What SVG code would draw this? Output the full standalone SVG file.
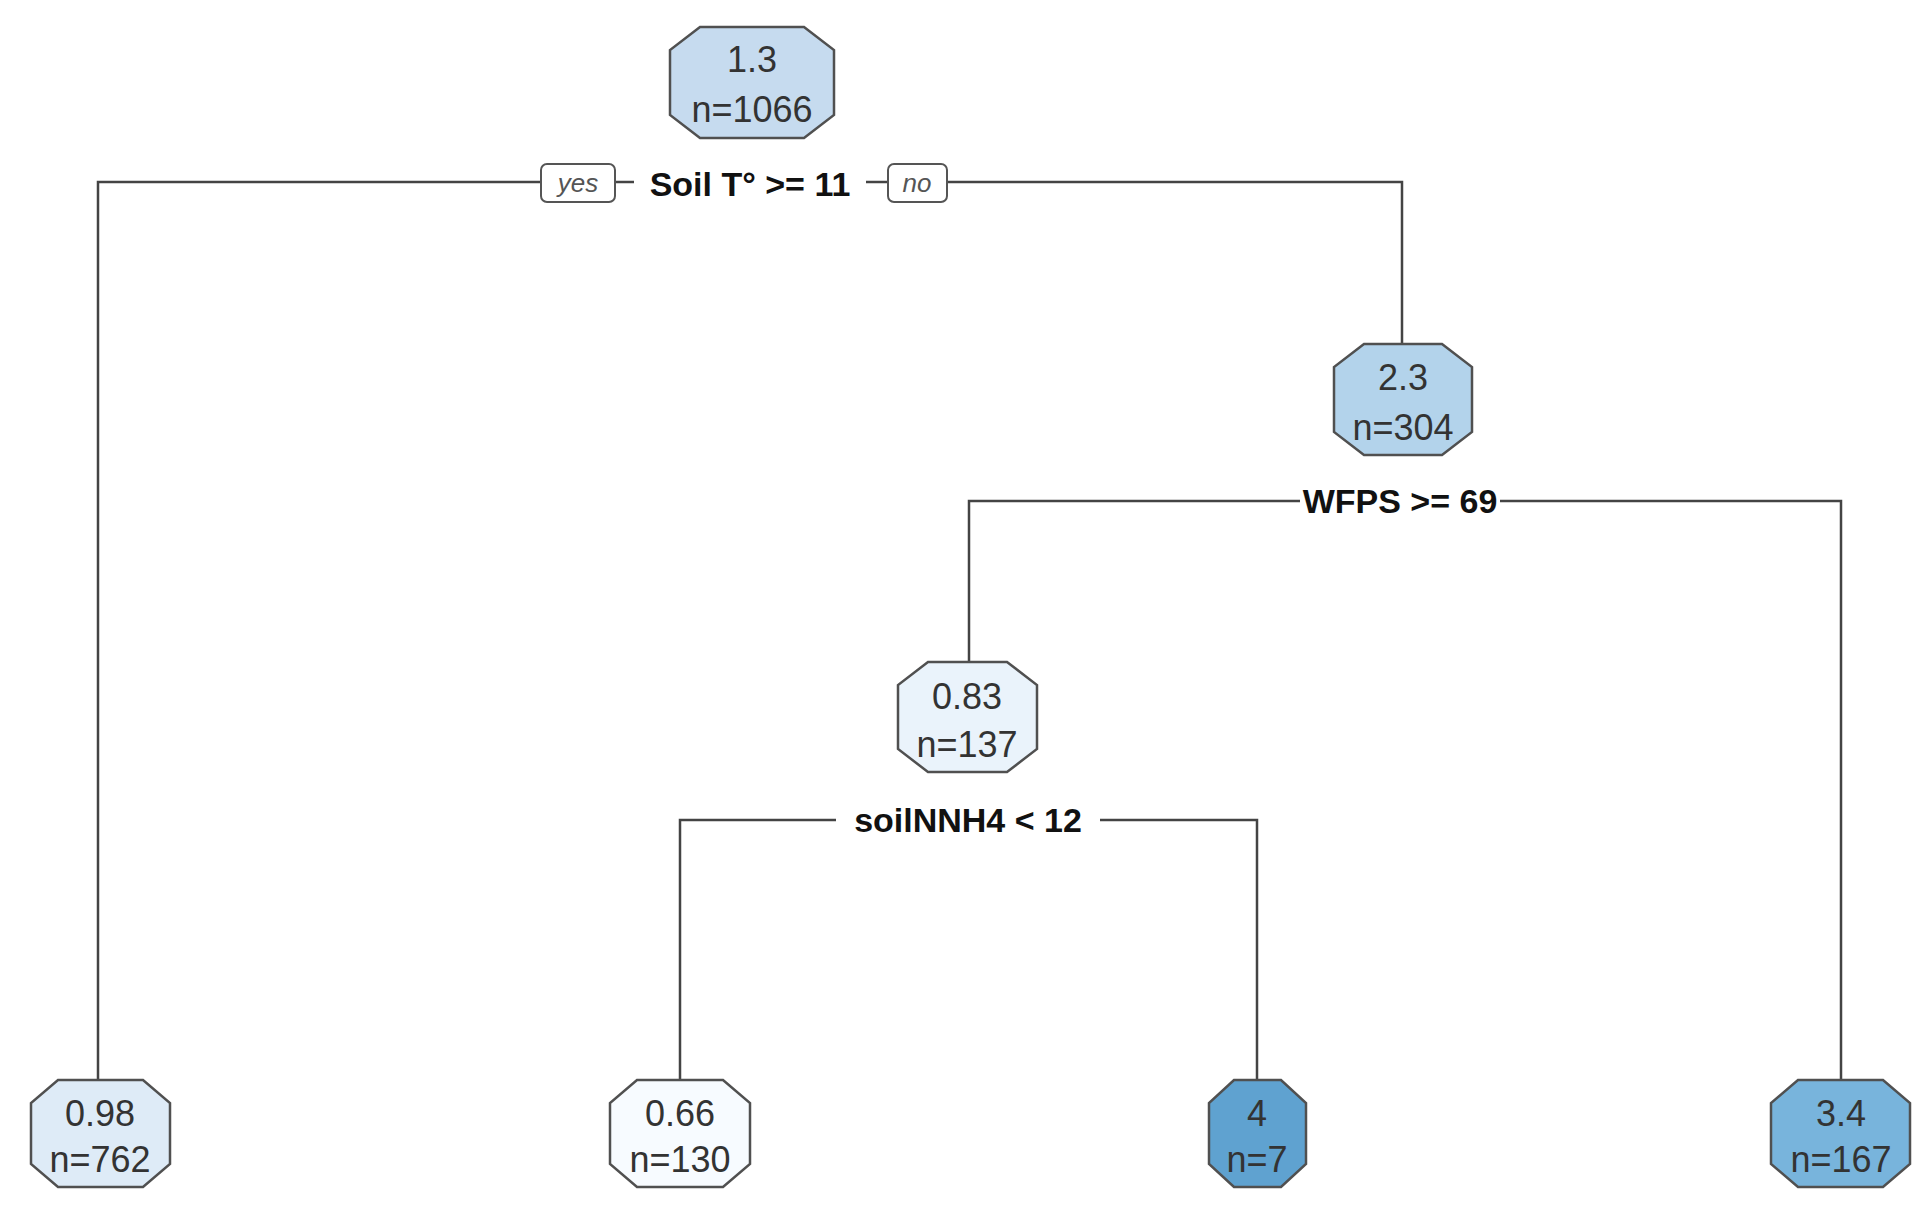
<svg xmlns="http://www.w3.org/2000/svg" width="1928" height="1210" viewBox="0 0 1928 1210">
<style>
.n{stroke:#505050;stroke-width:2.5}
.v{font-family:"Liberation Sans",Arial,sans-serif;font-size:36px;fill:#333;text-anchor:middle}
.s{font-family:"Liberation Sans",Arial,sans-serif;font-size:34px;font-weight:bold;fill:#111;text-anchor:middle}
.yn{font-family:"Liberation Sans",Arial,sans-serif;font-size:26px;font-style:italic;fill:#555;text-anchor:middle}
.c{fill:none;stroke:#444;stroke-width:2.5}
</style>
<rect width="1928" height="1210" fill="#fff"/>
<g id="connectors">
<path class="c" d="M541 182H98V1080M615 182H634M866 182H888M947 182H1402V344"/>
<path class="c" d="M1300 501H969V662M1500 501H1841V1080"/>
<path class="c" d="M836 820H680V1080M1100 820H1257V1080"/>
<rect x="541" y="164" width="74" height="38" rx="6" fill="#fff" stroke="#555" stroke-width="2"/>
<text class="yn" x="578" y="192">yes</text>
<rect x="888" y="164" width="59" height="38" rx="6" fill="#fff" stroke="#555" stroke-width="2"/>
<text class="yn" x="917" y="192">no</text>
<text class="s" x="750" y="196">Soil T° &gt;= 11</text>
<text class="s" x="1400" y="513">WFPS &gt;= 69</text>
<text class="s" x="968" y="832">soilNNH4 &lt; 12</text>
</g>
<g id="root"><path class="n" fill="#c6dbef" d="M700 27H804L834 50V115L804 138H700L670 115V50Z"/><text class="v" x="752" y="72">1.3</text><text class="v" x="752" y="122">n=1066</text></g>
<g id="n2"><path class="n" fill="#b3d3eb" d="M1364 344H1442L1472 367V432L1442 455H1364L1334 432V367Z"/><text class="v" x="1403" y="390">2.3</text><text class="v" x="1403" y="440">n=304</text></g>
<g id="n3"><path class="n" fill="#eaf3fb" d="M928 662H1007L1037 685V749L1007 772H928L898 749V685Z"/><text class="v" x="967" y="709">0.83</text><text class="v" x="967" y="757">n=137</text></g>
<g id="l1"><path class="n" fill="#deebf7" d="M58 1080H143L170 1103V1164L143 1187H58L31 1164V1103Z"/><text class="v" x="100" y="1126">0.98</text><text class="v" x="100" y="1172">n=762</text></g>
<g id="l2"><path class="n" fill="#f7fbff" d="M637 1080H723L750 1103V1164L723 1187H637L610 1164V1103Z"/><text class="v" x="680" y="1126">0.66</text><text class="v" x="680" y="1172">n=130</text></g>
<g id="l3"><path class="n" fill="#5fa2d0" d="M1234 1080H1281L1306 1103V1164L1281 1187H1234L1209 1164V1103Z"/><text class="v" x="1257" y="1126">4</text><text class="v" x="1257" y="1172">n=7</text></g>
<g id="l4"><path class="n" fill="#78b4dc" d="M1798 1080H1883L1910 1103V1164L1883 1187H1798L1771 1164V1103Z"/><text class="v" x="1841" y="1126">3.4</text><text class="v" x="1841" y="1172">n=167</text></g>
</svg>
